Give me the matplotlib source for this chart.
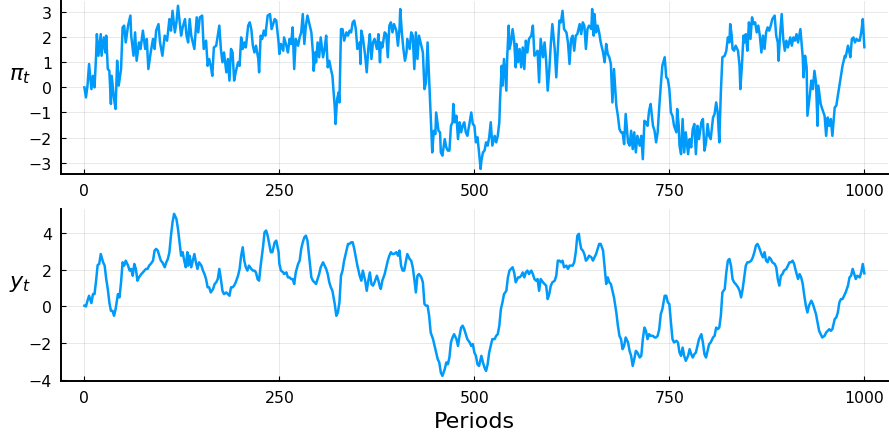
import matplotlib
matplotlib.use("Agg")
from matplotlib import pyplot as plt

# (period, value) pairs for inflation pi_t
pi_points = [
    (0, 0.0), (2, -0.4), (4, 0.07), (6, 0.93), (9, -0.07), (11, 0.46), (13, 0.0), (15, 1.26),
    (16, 2.12), (18, 1.26), (21, 2.12), (22, 1.26), (25, 1.99), (27, 1.39), (28, 2.06), (30, 0.73),
    (32, 0.66), (34, -0.66), (35, 0.46), (38, -0.46), (40, -0.86), (42, 1.06), (44, 0.07), (47, 0.73),
    (49, 2.39), (51, 2.46), (53, 1.79), (56, 2.46), (59, 2.86), (60, 2.06), (63, 1.26), (65, 2.19),
    (67, 1.06), (70, 1.79), (72, 1.53), (75, 2.26), (78, 1.53), (80, 1.93), (82, 0.73), (85, 1.39),
    (88, 1.93), (90, 1.53), (92, 2.26), (95, 2.52), (97, 1.79), (100, 1.26), (103, 2.06), (106, 1.86),
    (109, 2.72), (111, 2.26), (113, 3.05), (116, 2.19), (118, 2.59), (120, 3.25), (122, 2.66), (124, 2.06),
    (126, 2.39), (129, 2.72), (131, 2.06), (133, 1.79), (135, 2.72), (137, 2.06), (141, 1.53), (144, 2.79),
    (146, 2.19), (148, 2.79), (151, 2.86), (153, 1.53), (156, 1.86), (158, 0.86), (160, 1.13), (162, 0.86),
    (164, 0.46), (166, 1.59), (169, 1.66), (171, 2.06), (173, 2.46), (175, 1.53), (177, 1.0), (179, 1.39),
    (182, 0.6), (184, 1.13), (186, 0.27), (188, 1.53), (190, 1.39), (192, 0.27), (194, 0.6), (197, 1.0),
    (199, 0.86), (201, 1.99), (203, 1.53), (205, 1.79), (207, 1.59), (210, 2.46), (212, 2.59), (214, 2.32),
    (216, 1.66), (218, 1.39), (220, 1.66), (223, 1.13), (224, 0.6), (226, 2.06), (228, 1.93), (230, 2.26),
    (232, 2.06), (235, 2.86), (238, 2.92), (240, 2.32),
    (244, 2.72), (246, 2.66), (249, 1.79), (250, 1.33), (252, 1.73), (255, 1.46), (256, 1.99), (259, 1.66),
    (261, 1.39), (263, 1.93), (265, 1.73), (267, 2.39), (269, 0.73), (271, 1.93), (274, 1.66), (276, 1.99),
    (278, 2.19), (280, 2.92), (282, 1.73), (284, 2.46), (286, 2.86), (288, 2.59), (291, 2.19), (293, 1.39),
    (294, 0.66), (296, 1.39), (297, 1.0), (299, 1.79), (301, 1.2), (303, 1.99), (306, 1.2), (308, 1.53),
    (310, 2.06), (312, 0.8), (314, 1.06), (316, 0.73), (318, 0.46), (321, -0.8), (322, -1.46), (324, -0.46),
    (326, -0.2), (327, -0.6), (329, 2.32), (331, 2.32), (333, 1.86), (336, 2.19), (338, 2.06), (340, 2.26),
    (342, 2.19), (344, 2.59), (346, 2.66), (348, 2.32), (350, 1.53), (353, 1.79), (354, 0.93), (355, 2.26),
    (357, 1.99), (360, 1.26), (362, 0.6), (364, 1.53), (366, 2.12), (368, 1.13), (370, 1.79), (372, 1.93),
    (375, 1.53), (377, 2.12), (379, 1.0), (380, 1.79), (382, 1.59), (385, 2.19), (387, 2.12), (389, 1.2),
    (391, 2.46), (393, 2.59), (395, 2.19), (397, 2.52), (400, 2.26), (402, 1.66), (404, 2.32), (405, 3.12),
    (407, 2.19), (409, 1.53), (411, 1.06), (413, 1.39), (414, 1.93), (417, 1.53), (419, 2.19), (421, 2.06),
    (423, 0.73), (425, 2.19), (427, 1.13), (429, 2.06), (431, 1.79), (434, 1.39), (436, -0.07), (438, 0.2),
    (440, 1.79), (442, 0.33), (444, -1.13), (446, -2.59), (448, -1.73), (450, -1.86), (451, -1.0), (454, -1.73),
    (456, -1.79), (457, -2.59), (459, -2.72), (462, -2.06), (464, -2.39), (466, -2.52), (468, -2.52), (470, -1.53),
    (472, -1.39), (473, -0.66), (475, -1.39), (477, -1.13), (479, -2.06), (481, -1.39), (483, -1.79), (485, -1.53),
    (487, -1.39), (489, -1.79), (491, -1.93), (494, -1.39), (496, -1.0),
    (498, -1.46), (500, -1.53), (502, -2.19), (504, -1.99), (506, -2.59), (508, -3.25), (509, -2.92), (511, -2.59),
    (513, -2.52), (515, -2.19), (517, -2.32), (519, -1.99), (521, -1.39), (523, -2.32), (526, -1.93), (528, -2.19),
    (530, -1.93), (532, -1.39), (533, -0.46), (535, 0.86), (536, 0.07), (538, 1.13), (541, -0.13), (542, 1.13),
    (544, 2.46), (545, 1.53), (547, 1.79), (549, 2.32), (551, 1.86), (553, 0.8), (554, 1.73), (556, 1.0),
    (558, 1.53), (560, 0.8), (562, 1.59), (564, 0.73), (566, 1.86), (568, 1.39), (570, 1.93), (573, 2.06),
    (575, 2.46), (577, 1.26), (579, 1.33), (581, 1.46), (583, 0.2), (585, 1.93), (588, 1.2), (590, 1.79),
    (592, 1.06), (594, -0.13), (596, 0.66), (598, 1.73), (600, 2.52), (603, 1.53), (605, 0.4), (607, 1.53),
    (609, 2.66), (611, 2.59), (613, 3.05), (615, 2.32), (618, 2.19), (620, 1.79), (622, 0.93), (624, 1.93),
    (626, 2.06), (628, 1.46), (630, 2.06), (632, 2.12), (635, 2.52), (637, 2.12), (639, 2.59), (641, 2.46),
    (643, 1.53), (645, 2.32), (647, 2.46), (650, 2.32), (651, 3.12), (653, 2.06), (654, 2.92), (656, 2.19),
    (658, 2.46), (660, 2.19), (662, 1.79), (665, 1.39), (667, 1.0), (669, 1.73), (671, 1.33), (673, 1.2),
    (675, 0.93), (677, -0.6), (679, 0.73), (682, -0.73), (684, -1.13), (686, -1.66), (688, -1.79), (690, -1.79),
    (692, -2.26), (694, -1.06), (697, -2.19), (699, -2.32), (701, -1.73), (703, -2.46), (705, -1.79), (707, -2.59),
    (709, -1.93), (712, -2.32), (714, -1.93), (716, -2.86), (718, -1.33), (720, -1.39), (722, -1.53), (724, -0.93),
    (726, -0.66), (729, -1.53), (731, -1.73), (733, -2.19), (735, -1.79), (737, -0.8), (739, 0.07), (741, 0.86),
    (744, 1.2), (746, 0.4), (748, 0.33), (750, -0.07), (752, -1.0),
    (754, -1.13), (756, -1.53), (759, -1.79), (760, -0.86), (762, -1.53), (763, -2.32), (765, -2.66), (767, -1.26),
    (769, -2.59), (771, -1.79), (774, -2.66), (776, -2.06), (778, -2.39), (780, -1.66), (782, -1.46), (784, -2.66),
    (786, -1.53), (788, -2.06), (791, -1.39), (793, -1.26), (795, -2.52), (797, -2.19), (799, -1.46), (801, -1.93),
    (803, -2.06), (806, -1.2), (808, -1.06), (810, -0.6), (812, -1.0), (814, -2.19), (816, -0.2), (818, 1.2),
    (821, 1.26), (823, 1.46), (825, 1.99), (827, 1.79), (828, 2.52), (830, 2.06), (831, 1.53), (833, 1.46),
    (835, 1.66), (838, 1.46), (840, 0.86), (841, -0.07), (843, 0.86), (845, 2.06), (846, 1.79), (848, 2.12),
    (850, 1.46), (852, 2.59), (854, 1.93), (856, 2.79), (858, 2.52), (860, 2.59), (862, 2.19), (864, 2.46),
    (866, 2.06), (868, 1.39), (870, 2.06), (872, 1.53), (874, 2.19), (876, 2.39), (878, 2.26), (880, 2.46),
    (882, 2.72), (885, 2.86), (887, 2.06), (889, 1.79), (890, 1.06), (892, 2.12), (894, 2.92), (896, 1.93),
    (898, 1.46), (900, 1.86), (902, 1.59), (905, 1.99), (907, 1.66), (909, 1.99), (911, 1.86), (913, 2.12),
    (915, 1.79), (918, 2.32), (919, 1.93), (921, 1.2), (922, 0.4), (924, 1.26), (926, 0.8), (927, -1.13),
    (930, -0.33), (932, 0.27), (934, -0.07), (936, 0.66), (938, 0.2), (940, -1.53), (941, 0.07), (944, -0.66),
    (946, -0.86), (949, -1.13), (951, -1.93), (953, -1.2), (955, -1.53), (957, -1.26), (959, -1.93), (962, -0.8),
    (964, -0.73), (966, -0.33), (968, 0.07), (970, 0.46), (972, 0.86), (975, 1.26), (976, 1.2), (979, 1.66),
    (980, 1.53), (982, 1.2), (984, 1.93), (986, 1.99), (988, 1.79), (990, 1.93), (992, 1.86), (994, 1.86),
    (996, 2.19), (998, 2.72), (1000, 1.6),
]

# (period, value) pairs for output y_t
y_points = [
    (0, 0.04), (2, 0.0), (4, 0.31), (6, 0.58), (9, 0.18), (11, 0.67), (13, 0.67), (15, 1.4),
    (17, 2.25), (19, 2.31), (21, 2.85), (24, 2.4), (26, 2.22), (28, 1.49), (30, 0.95), (32, 0.22),
    (34, -0.24), (36, -0.24), (38, -0.51), (40, -0.15), (43, 0.67), (45, 0.49), (47, 1.31), (49, 2.4),
    (51, 2.22), (53, 2.49), (56, 2.22), (58, 1.95), (60, 2.04), (62, 1.67), (64, 2.31), (66, 2.04),
    (68, 1.4), (70, 1.58), (73, 1.76), (75, 1.85), (77, 1.95), (79, 2.04), (81, 2.04), (83, 2.22),
    (85, 2.31), (88, 2.49), (90, 3.04), (92, 3.13), (94, 3.04), (96, 2.76), (98, 2.49), (100, 2.4),
    (103, 2.13), (105, 2.4), (107, 2.58), (109, 2.95), (111, 3.85), (113, 4.58), (115, 5.04), (118, 4.76),
    (120, 4.22), (122, 3.49), (124, 2.76), (126, 2.95), (128, 2.49), (130, 2.13), (132, 2.95), (133, 2.22),
    (135, 2.76), (137, 2.13), (139, 2.49), (141, 2.85), (143, 2.4), (145, 2.04), (147, 2.4), (150, 2.22),
    (152, 1.95), (154, 1.76), (156, 1.49), (158, 1.04), (160, 1.04), (162, 0.76), (165, 0.95), (167, 1.22),
    (169, 1.31), (171, 1.49), (173, 2.04), (175, 1.49), (177, 0.85), (179, 0.67), (182, 0.76), (184, 0.67),
    (186, 0.58), (188, 1.04), (190, 1.04), (192, 1.13), (194, 1.31), (197, 1.67), (199, 2.04), (201, 2.76),
    (203, 3.22), (205, 2.49), (207, 2.13), (209, 1.95), (211, 2.22), (214, 2.04), (216, 1.95), (218, 1.95),
    (220, 1.85), (222, 1.49), (224, 1.4), (226, 2.22), (229, 3.22), (231, 4.04), (233, 4.13), (235, 3.85),
    (237, 3.4), (239, 2.95),
    (241, 2.95), (244, 3.49), (246, 3.58), (249, 2.95), (250, 2.31), (252, 1.95), (255, 1.85), (256, 1.76),
    (259, 1.85), (261, 1.58), (263, 1.58), (265, 1.49), (267, 1.49), (269, 1.22), (271, 1.85), (274, 2.31),
    (276, 2.49), (278, 3.13), (280, 3.49), (282, 3.76), (284, 3.85), (286, 3.58), (288, 2.76), (291, 1.58),
    (293, 1.4), (295, 1.31), (297, 1.22), (299, 1.49), (301, 1.76), (303, 2.13), (306, 2.4), (308, 2.22),
    (310, 2.04), (312, 1.76), (314, 1.31), (316, 1.04), (318, 0.85), (321, 0.13), (323, -0.51), (325, -0.33),
    (327, 0.22), (329, 1.67), (331, 1.95), (333, 2.49), (336, 3.04), (338, 3.4), (340, 3.4), (342, 3.49),
    (344, 3.49), (346, 3.13), (348, 2.67), (350, 2.22), (353, 1.67), (355, 1.4), (357, 1.95), (360, 1.4),
    (362, 0.85), (364, 1.4), (366, 1.85), (368, 1.22), (370, 1.13), (372, 1.31), (375, 1.67), (377, 1.4),
    (379, 1.04), (380, 0.95), (382, 1.4), (385, 1.76), (387, 2.13), (389, 2.49), (391, 2.76), (393, 2.95),
    (395, 2.85), (397, 2.85), (400, 2.95), (402, 2.76), (404, 3.04), (406, 2.22), (408, 1.95), (410, 1.95),
    (412, 2.4), (414, 2.85), (417, 2.58), (419, 2.49), (421, 2.13), (423, 1.49), (425, 0.76), (427, 1.67),
    (429, 1.76), (432, 1.58), (434, 1.31), (436, 0.13), (438, 0.04), (440, 0.04), (442, -0.51), (444, -1.42),
    (447, -1.78), (449, -2.15), (451, -2.51), (453, -2.87), (455, -3.05), (457, -3.6), (459, -3.78), (462, -3.42),
    (464, -3.05), (466, -3.15), (468, -2.78), (470, -1.96), (472, -1.69), (474, -1.51), (477, -1.78), (479, -2.15),
    (481, -1.6), (483, -1.15), (485, -1.05), (487, -1.24), (489, -1.51), (491, -1.78), (494, -1.96), (496, -2.15),
    (498, -2.05), (500, -2.51), (502, -2.69), (504, -3.15), (506, -3.24), (509, -2.69), (511, -3.05), (513, -3.33),
    (515, -3.51), (517, -3.15), (519, -2.51), (521, -2.15), (523, -1.78), (526, -1.78), (528, -1.6), (530, -1.51),
    (532, -1.05), (534, -0.15), (536, 0.22), (538, 0.67), (541, 0.85), (543, 1.58), (545, 1.95), (547, 2.04),
    (549, 2.13), (551, 1.85), (553, 1.31), (556, 1.58), (558, 1.58), (560, 1.67), (562, 1.85), (564, 1.58),
    (566, 1.85), (568, 1.95), (570, 1.76), (573, 1.95), (575, 1.76), (577, 1.49), (579, 1.4), (581, 1.49),
    (583, 0.85), (585, 1.49), (588, 1.31), (590, 1.22), (592, 1.13), (594, 0.4), (596, 0.67), (598, 1.13),
    (600, 1.31), (603, 1.4), (605, 1.67), (607, 2.49), (609, 2.49), (611, 2.4), (613, 2.49), (615, 2.13),
    (618, 2.22), (620, 2.04), (622, 2.22), (624, 2.22), (626, 2.22), (628, 2.4), (630, 2.95), (632, 3.85),
    (634, 3.95), (635, 3.58), (637, 3.13), (639, 3.04), (641, 2.85), (643, 2.49), (645, 2.58), (647, 2.76),
    (650, 2.67), (652, 2.49), (654, 2.67), (656, 2.85), (658, 3.13), (660, 3.4), (662, 3.4), (665, 3.04),
    (667, 2.13), (669, 1.22), (671, 1.58), (673, 1.31), (675, 1.22), (677, 0.85), (679, 0.49), (682, -0.33),
    (684, -1.05), (686, -1.6), (688, -1.78), (690, -2.33), (692, -2.15), (694, -1.69), (697, -1.96), (699, -2.42),
    (701, -2.69), (703, -3.24), (705, -2.87), (707, -2.42), (709, -2.51), (712, -2.78), (714, -2.69), (716, -1.78),
    (718, -1.15), (720, -1.33), (722, -1.78), (724, -1.51), (726, -1.6), (729, -1.6), (731, -1.69), (733, -1.69),
    (735, -1.6), (737, -1.24), (739, -0.42), (741, -0.15), (744, 0.58), (746, 0.58), (748, 0.22), (750, 0.13),
    (752, -0.87),
    (754, -1.78), (756, -1.96), (759, -1.87), (761, -1.96), (763, -2.51), (765, -2.69), (767, -2.24), (769, -2.69),
    (771, -2.96), (774, -2.69), (776, -2.33), (778, -2.6), (780, -2.78), (782, -2.6), (784, -2.51), (786, -2.15),
    (788, -1.78), (791, -1.51), (793, -1.96), (795, -2.6), (797, -2.78), (799, -2.42), (801, -2.05), (803, -1.96),
    (806, -1.69), (808, -1.6), (810, -1.15), (812, -1.24), (814, -1.15), (816, -0.51), (818, 0.76), (821, 0.95),
    (823, 1.85), (825, 2.49), (827, 2.58), (829, 2.22), (831, 1.49), (833, 1.31), (835, 1.22), (838, 1.04),
    (840, 0.85), (842, 0.49), (844, 0.95), (846, 1.58), (848, 2.22), (850, 2.4), (852, 2.4), (855, 2.49),
    (857, 2.67), (859, 2.95), (861, 3.31), (863, 3.4), (865, 3.22), (868, 2.85), (870, 2.67), (872, 2.95),
    (874, 2.49), (876, 2.4), (878, 2.67), (880, 2.58), (882, 2.4), (885, 2.31), (887, 2.13), (889, 1.49),
    (891, 1.13), (893, 1.67), (895, 1.76), (897, 1.95), (900, 2.04), (902, 2.22), (904, 2.4), (906, 2.4),
    (908, 2.49), (910, 2.31), (912, 1.95), (915, 1.49), (917, 1.76), (919, 1.58), (921, 1.22), (923, 0.58),
    (925, 0.04), (927, -0.33), (929, 0.04), (932, 0.31), (934, 0.13), (936, -0.15), (938, -0.42), (940, -0.87),
    (942, -1.33), (944, -1.51), (946, -1.69), (949, -1.6), (951, -1.42), (953, -1.33), (955, -1.24), (957, -1.33),
    (959, -1.24), (962, -0.69), (964, -0.6), (966, -0.33), (968, 0.22), (970, 0.4), (972, 0.4), (974, 0.58),
    (976, 0.76), (979, 1.13), (981, 1.58), (983, 1.67), (985, 2.04), (987, 1.76), (989, 1.49), (991, 1.67),
    (994, 1.58), (996, 1.85), (998, 2.31), (1000, 1.8),
]

x_ticks = [0, 250, 500, 750, 1000]
pi_ticks = [-3, -2, -1, 0, 1, 2, 3]
y_ticks = [-4, -2, 0, 2, 4]

line_color = '#009AFA'

fig = plt.figure(figsize=(8.89, 4.39), dpi=100)
ax1 = fig.add_axes([0.0686, 0.6014, 0.93, 0.3946])
ax2 = fig.add_axes([0.0686, 0.1298, 0.93, 0.3918])


def style_axis(ax, yticks, ylim, label):
    ax.set_xlim(-30, 1030)
    ax.set_ylim(*ylim)
    ax.set_xticks(x_ticks)
    ax.set_yticks(yticks)
    ax.grid(True, color='black', alpha=0.1, linewidth=0.6)
    ax.set_axisbelow(True)
    for side in ['top', 'right']:
        ax.spines[side].set_visible(False)
    for side in ['left', 'bottom']:
        ax.spines[side].set_linewidth(1.4)
    ax.tick_params(direction='in', length=3.5, width=0.8, labelsize=11.3, pad=6.5)
    ax.set_ylabel(label, rotation=0, fontsize=16, va='center', ha='center')
    ax.yaxis.set_label_coords(-0.05, 0.57)


x, v = zip(*pi_points)
ax1.plot(x, v, color=line_color, linewidth=1.8)
style_axis(ax1, pi_ticks, (-3.45, 3.45), r'$\pi_t$')

x, v = zip(*y_points)
ax2.plot(x, v, color=line_color, linewidth=1.8)
style_axis(ax2, y_ticks, (-4.06, 5.3), r'$y_t$')
ax2.set_xlabel('Periods', fontsize=16, labelpad=4)

plt.savefig('out.png', dpi=100)
